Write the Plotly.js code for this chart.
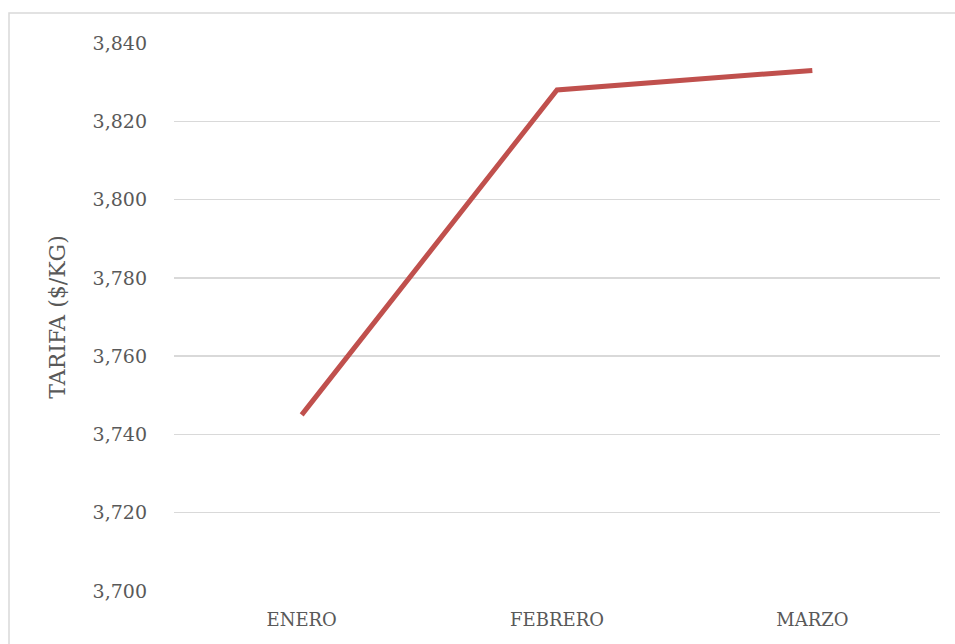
<!DOCTYPE html>
<html><head><meta charset="utf-8">
<script src="https://cdn.plot.ly/plotly-3.0.1.min.js"></script>
<style>html,body{margin:0;padding:0;background:#fff;}#c{width:955px;height:644px;}</style>
</head><body><div id="c"></div>
<script>
const months = ["ENERO", "FEBRERO", "MARZO"];
const tarifa = [3745, 3828, 3833];
const yTicks = [3700, 3720, 3740, 3760, 3780, 3800, 3820, 3840];
const yTickLabels = ["3,700", "3,720", "3,740", "3,760", "3,780", "3,800", "3,820", "3,840"];

const font = "DejaVu Serif";
Plotly.newPlot("c", [{
  x: months, y: tarifa, type: "scatter", mode: "lines",
  line: {color: "#C0504D", width: 5},
  hoverinfo: "none"
}], {
  width: 955, height: 644,
  margin: {l: 174, r: 15, t: 43, b: 53},
  paper_bgcolor: "#fff", plot_bgcolor: "#fff",
  showlegend: false,
  font: {family: font, color: "#595959", size: 18},
  xaxis: {type: "category", range: [-0.5, 2.5], showgrid: false, zeroline: false, showline: false,
    ticks: "", tickfont: {family: font, size: 18, color: "#595959"}, ticklabelstandoff: 16},
  yaxis: {range: [3700, 3840], tickvals: yTicks, ticktext: yTickLabels,
    showgrid: true, gridcolor: "#D9D9D9", gridwidth: 1.5, zeroline: false, showline: false,
    ticks: "", ticklabelstandoff: 26, tickfont: {family: font, size: 19, color: "#595959"},
    title: {text: "TARIFA ($/KG)", font: {family: font, size: 22, color: "#595959"}, standoff: 20}},
  shapes: [{type: "rect", xref: "paper", yref: "paper", x0: -0.2154, x1: 1.05, y0: -0.2, y1: 1.0547,
    line: {color: "#D9D9D9", width: 1.5}, fillcolor: "rgba(0,0,0,0)", layer: "below"}]
}, {staticPlot: true});
</script></body></html>
